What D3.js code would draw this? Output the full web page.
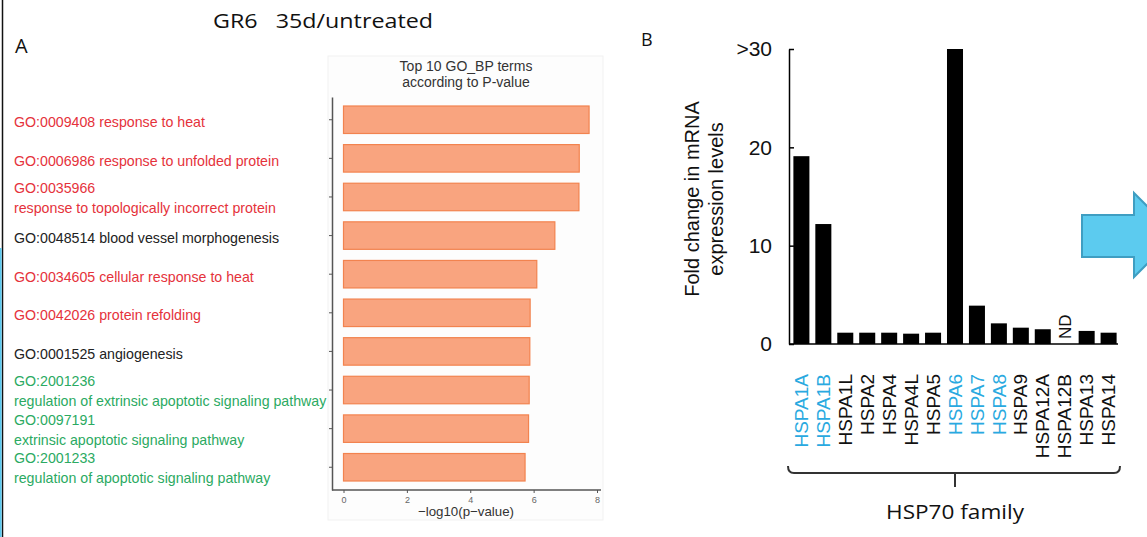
<!DOCTYPE html>
<html>
<head>
<meta charset="utf-8">
<script src="https://cdn.jsdelivr.net/npm/d3@7"></script>
<style>
  body { margin: 0; background: #fff; }
  svg { display: block; }
</style>
</head>
<body>
<svg id="figure" width="1147" height="537"></svg>
<script>
// Panel A data
var goTerms = [
  ["GO:0009408 response to heat"],
  ["GO:0006986 response to unfolded protein"],
  ["GO:0035966", "response to topologically incorrect protein"],
  ["GO:0048514 blood vessel morphogenesis"],
  ["GO:0034605 cellular response to heat"],
  ["GO:0042026 protein refolding"],
  ["GO:0001525 angiogenesis"],
  ["GO:2001236", "regulation of extrinsic apoptotic signaling pathway"],
  ["GO:0097191", "extrinsic apoptotic signaling pathway"],
  ["GO:2001233", "regulation of apoptotic signaling pathway"]
];
var goGroups = ["heat", "heat", "heat", "vessel", "heat", "heat", "vessel", "apoptosis", "apoptosis", "apoptosis"];
var logP = [7.75, 7.44, 7.43, 6.67, 6.1, 5.89, 5.88, 5.86, 5.84, 5.73];
var logPTicks = [0, 2, 4, 6, 8];

// Panel B data
var genes = ["HSPA1A", "HSPA1B", "HSPA1L", "HSPA2", "HSPA4", "HSPA4L", "HSPA5", "HSPA6",
             "HSPA7", "HSPA8", "HSPA9", "HSPA12A", "HSPA12B", "HSPA13", "HSPA14"];
var foldChange = [19.1, 12.2, 1.15, 1.15, 1.15, 1.05, 1.15, 30, 3.9, 2.1, 1.66, 1.5, null, 1.33, 1.15];
var highlighted = ["HSPA1A", "HSPA1B", "HSPA6", "HSPA7", "HSPA8"];
var foldTicks = [0, 10, 20, 30];

var groupColor = {heat: "#e5323b", vessel: "#222222", apoptosis: "#2baa62"};
var sans = "'Liberation Sans', Arial, sans-serif";
var calib = "'Open Sans', Lato, sans-serif";

var svg = d3.select("svg#figure");

// Left border lines
svg.append("line")
  .attr("x1", 2.5).attr("x2", 2.5).attr("y1", 0).attr("y2", 537)
  .attr("stroke", "#111").attr("stroke-width", 1.5);
svg.append("line")
  .attr("x1", 0.8).attr("x2", 0.8).attr("y1", 248).attr("y2", 537)
  .attr("stroke", "#5bc8ee").attr("stroke-width", 1.6);

// Titles and panel letters
svg.append("text")
  .attr("x", 213).attr("y", 28)
  .attr("font-family", calib).attr("font-size", 20).attr("fill", "#111")
  .attr("xml:space", "preserve")
  .attr("textLength", 220).attr("lengthAdjust", "spacingAndGlyphs")
  .text("GR6   35d/untreated");

svg.append("text")
  .attr("x", 15).attr("y", 53)
  .attr("font-family", calib).attr("font-size", 20).attr("fill", "#111")
  .text("A");

svg.append("text")
  .attr("x", 641).attr("y", 46)
  .attr("font-family", calib).attr("font-size", 18).attr("fill", "#111")
  .text("B");


// ---------- Panel A ----------
var xA = d3.scaleLinear().domain([0, 8]).range([343.5, 597]);
var yA = d3.scaleBand()
  .domain(d3.range(goTerms.length))
  .range([97, 490])
  .paddingInner(0.288)
  .paddingOuter(0.233);

// background of the small plot
svg.append("rect")
  .attr("x", 328).attr("y", 56).attr("width", 275).attr("height", 464)
  .attr("fill", "#fdfdfd").attr("stroke", "#f1f1f1");

svg.selectAll("text.plotTitle")
  .data(["Top 10 GO_BP terms", "according to P-value"])
  .enter().append("text")
  .attr("class", "plotTitle")
  .attr("x", 466)
  .attr("y", (d, i) => 71 + i * 16)
  .attr("text-anchor", "middle")
  .attr("font-family", sans).attr("font-size", 14).attr("fill", "#333")
  .text(d => d);

// bars
svg.selectAll("rect.goBar")
  .data(logP)
  .enter().append("rect")
  .attr("class", "goBar")
  .attr("x", xA(0))
  .attr("y", (d, i) => yA(i))
  .attr("width", d => xA(d) - xA(0))
  .attr("height", yA.bandwidth())
  .attr("fill", "#f9a47f")
  .attr("stroke", "#f2834f")
  .attr("stroke-width", 1.2);

// axes
var axA = svg.append("g")
  .attr("transform", "translate(0,490)")
  .call(d3.axisBottom(xA).tickValues(logPTicks).tickSize(3).tickPadding(2).tickSizeOuter(0));
axA.select(".domain").attr("d", "M332,0H601").attr("stroke", "#555").attr("stroke-width", 1.5);
axA.selectAll(".tick line").attr("stroke", "#555");
axA.selectAll(".tick text")
  .attr("font-family", sans).attr("font-size", 9).attr("fill", "#666")
  .attr("dy", "0.9em");

var ayA = svg.append("g")
  .attr("transform", "translate(332,0)")
  .call(d3.axisLeft(yA).tickSize(3).tickFormat("").tickSizeOuter(0));
ayA.select(".domain").attr("stroke", "#555").attr("stroke-width", 1.5);
ayA.selectAll(".tick line").attr("stroke", "#555");

svg.append("text")
  .attr("x", 466).attr("y", 516)
  .attr("text-anchor", "middle")
  .attr("font-family", sans).attr("font-size", 13.3).attr("fill", "#333")
  .text("\u2212log10(p\u2212value)");

// term labels
var labels = svg.selectAll("text.goLabel")
  .data(goTerms)
  .enter().append("text")
  .attr("class", "goLabel")
  .attr("font-family", sans).attr("font-size", 14.2)
  .attr("fill", (d, i) => groupColor[goGroups[i]]);

labels.selectAll("tspan")
  .data((d, i) => d.map(function(line, j) {
    var c = yA(i) + yA.bandwidth() / 2;
    var top = d.length === 1 ? c + 7.5 : c - 4;
    return {text: line, y: top + j * 20};
  }))
  .enter().append("tspan")
  .attr("x", 14)
  .attr("y", d => d.y)
  .text(d => d.text);


// ---------- Panel B ----------
var xB = d3.scaleBand()
  .domain(genes)
  .range([789, 1121])
  .paddingInner(0.27)
  .paddingOuter(0.2);
var yB = d3.scaleLinear().domain([0, 30]).range([344, 49]);

// bars
svg.selectAll("rect.foldBar")
  .data(genes.map((g, i) => ({gene: g, value: foldChange[i]})).filter(d => d.value !== null))
  .enter().append("rect")
  .attr("class", "foldBar")
  .attr("x", d => xB(d.gene))
  .attr("y", d => yB(d.value))
  .attr("width", xB.bandwidth())
  .attr("height", d => yB(0) - yB(d.value))
  .attr("fill", "#000");

// ND label
svg.selectAll("text.nd")
  .data(genes.filter((g, i) => foldChange[i] === null))
  .enter().append("text")
  .attr("class", "nd")
  .attr("transform", d => "translate(" + (xB(d) + xB.bandwidth() / 2) + "," + (yB(0) - 5) + ") rotate(-90)")
  .attr("dy", "0.35em")
  .attr("font-family", sans).attr("font-size", 17).attr("fill", "#111")
  .text("ND");

// y axis
var ayB = svg.append("g")
  .attr("transform", "translate(789,0)")
  .call(d3.axisLeft(yB).tickValues(foldTicks).tickSizeInner(-5).tickSizeOuter(0).tickPadding(17)
    .tickFormat(d => d === 30 ? ">30" : d));
ayB.select(".domain").attr("stroke", "#000").attr("stroke-width", 1.5);
ayB.selectAll(".tick line").attr("stroke", "#000").attr("stroke-width", 1.5);
ayB.selectAll(".tick text")
  .attr("font-family", sans).attr("font-size", 21).attr("fill", "#111");

// x baseline
svg.append("line")
  .attr("x1", 789).attr("x2", xB.range()[1] - 3)
  .attr("y1", yB(0)).attr("y2", yB(0))
  .attr("stroke", "#000").attr("stroke-width", 1.5);

// y label
svg.selectAll("text.yLabel")
  .data(["Fold change in mRNA", "expression levels"])
  .enter().append("text")
  .attr("class", "yLabel")
  .attr("transform", (d, i) => "translate(" + (699 + i * 24) + ",199) rotate(-90)")
  .attr("text-anchor", "middle")
  .attr("font-family", sans).attr("font-size", 20).attr("fill", "#111")
  .text(d => d);

// gene labels
svg.selectAll("text.gene")
  .data(genes)
  .enter().append("text")
  .attr("class", "gene")
  .attr("transform", d => "translate(" + (xB(d) + xB.bandwidth() / 2) + ",374) rotate(-90)")
  .attr("dy", "0.35em")
  .attr("text-anchor", "end")
  .attr("font-family", sans).attr("font-size", 19)
  .attr("fill", d => highlighted.indexOf(d) >= 0 ? "#29a9e0" : "#111")
  .text(d => d);

// bracket under the genes
var bx0 = 788, bx1 = 1120, by = 473;
var bmid = (xB(genes[0]) + xB(genes[genes.length - 1]) + xB.bandwidth()) / 2;
svg.append("path")
  .attr("d", "M" + bx0 + "," + (by - 7) + "Q" + bx0 + "," + by + " " + (bx0 + 6) + "," + by +
             "H" + (bx1 - 6) + "Q" + bx1 + "," + by + " " + bx1 + "," + (by - 7) +
             "M" + bmid + "," + by + "V" + (by + 14))
  .attr("fill", "none").attr("stroke", "#333").attr("stroke-width", 2);

svg.append("text")
  .attr("x", bmid).attr("y", 519)
  .attr("text-anchor", "middle")
  .attr("font-family", calib).attr("font-size", 20.5).attr("fill", "#111")
  .attr("textLength", 138).attr("lengthAdjust", "spacingAndGlyphs")
  .text("HSP70 family");

// Blue arrow at the right edge
svg.append("path")
  .attr("d", "M1082,215H1134V193L1176,235L1134,277V257H1082Z")
  .attr("fill", "#5ccbef")
  .attr("stroke", "#3f9ec2")
  .attr("stroke-width", 2);
</script>
</body>
</html>
